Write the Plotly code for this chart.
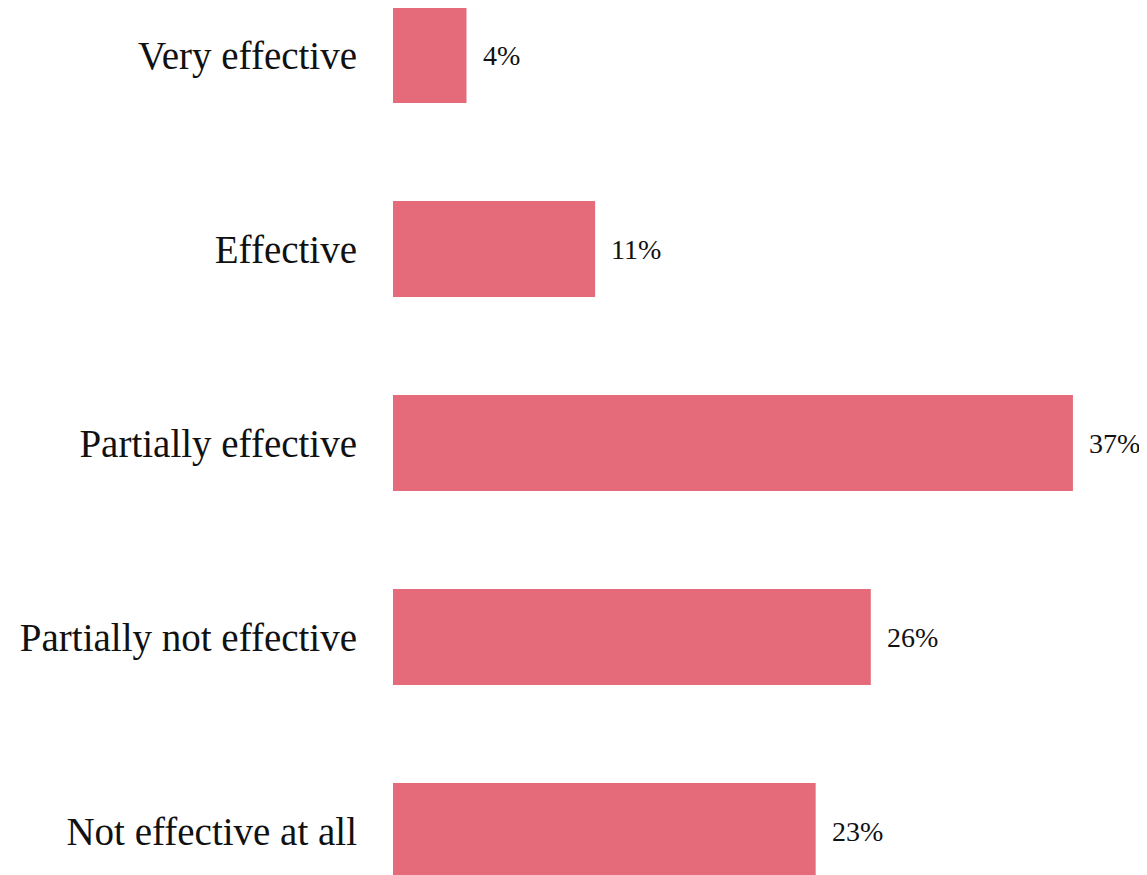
import plotly.graph_objects as go

categories = ["Very effective", "Effective", "Partially effective",
              "Partially not effective", "Not effective at all"]
values = [4, 11, 37, 26, 23]
value_labels = ["4%", "11%", "37%", "26%", "23%"]

BAR_COLOR = "#E56B7B"
FONT = "Georgia, 'Liberation Serif', serif"

fig = go.Figure()
fig.add_trace(go.Bar(
    x=values, y=categories, orientation="h",
    marker=dict(color=BAR_COLOR, line=dict(width=0)),
    width=0.495, hoverinfo="skip",
))

for cat, v, lab in zip(categories, values, value_labels):
    fig.add_annotation(x=v, y=cat, text=lab, showarrow=False,
                       xanchor="left", yanchor="middle", xshift=14,
                       font=dict(family=FONT, size=28, color="#111111"))

fig.update_layout(
    width=1139, height=867,
    margin=dict(l=385, r=0, t=0, b=0),
    paper_bgcolor="white", plot_bgcolor="white",
    showlegend=False,
    xaxis=dict(range=[0, 41.03], visible=False, fixedrange=True),
    yaxis=dict(type="category", categoryorder="array", categoryarray=categories,
               range=[4.2268, -0.2423], showgrid=False, zeroline=False,
               showline=False, ticks="", ticklabelstandoff=35,
               tickfont=dict(family=FONT, size=39, color="#111111")),
)

fig.write_html("out.html")
